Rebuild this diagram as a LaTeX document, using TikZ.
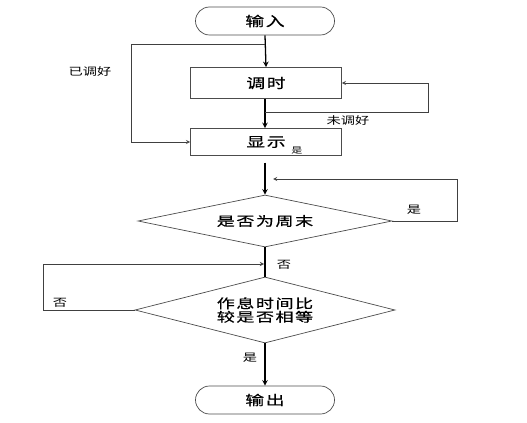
\documentclass[tikz,border=0pt]{standalone}
\usepackage{fontspec}
\setmainfont{Noto Sans CJK SC}[FakeStretch=1.35]
\newfontfamily\boxfont{Noto Sans CJK SC}[FakeStretch=1.4, FakeBold=0.6, LetterSpace=12]
\usepackage{tikz}
\usetikzlibrary{shapes.geometric}

\begin{document}
\begin{tikzpicture}[
  x=0.3mm, y=-0.3mm,
  term/.style={draw=black!70, line width=0.6pt, rounded corners=4.2mm,
               minimum width=41.7mm, minimum height=8.4mm,
               font=\boxfont\fontsize{11.5}{12}\selectfont},
  pbox/.style={draw=black!70, line width=0.6pt, minimum width=45.3mm,
               minimum height=8.6mm, font=\boxfont\fontsize{11.5}{12}\selectfont},
  decide/.style={diamond, draw=black!70, line width=0.6pt, inner sep=0pt,
                 align=center, font=\boxfont\fontsize{11}{11.5}\selectfont},
  arrow/.style={->, >=stealth, line width=1.1pt},
  back/.style={->, >=stealth, line width=0.6pt, color=black!75},
  lbl/.style={font=\fontsize{9}{10}\selectfont},
]
  \useasboundingbox (0,0) rectangle (527,423);

  % start / end
  \node[term] (in) at (265,21) {输入};
  \node[term] (out) at (265,400) {输出};

  % boxes
  \node[pbox, minimum height=9.3mm] (tune) at (266,83) {调时};
  \node[pbox, minimum height=8.1mm] (show) at (266,142) {显示};

  % decisions
  \node[decide, aspect=4.9, minimum width=76.2mm, minimum height=15.6mm] (wk)
    at (265,221) {是否为周末};
  \node[decide, aspect=3.9, minimum width=78mm, minimum height=19.8mm] (cmp)
    at (265,310) {作息时间比\\较是否相等};

  % bends
  \coordinate (b1) at (265,44);
  \coordinate (la) at (131,44);
  \coordinate (b2) at (265,112);
  \coordinate (ra) at (428,112);
  \coordinate (wr) at (457,179);
  \coordinate (wa) at (273,179);
  \coordinate (cl) at (43,264);
  \coordinate (cm) at (264,264);

  % main flow
  \draw[arrow] (in.south) -- (tune.north);
  \draw[arrow] (tune.south -| in.south) -- (show.north -| in.south);
  \draw[arrow, shorten <=2mm] (show.south -| in.south) -- (wk.north);
  \draw[line width=1.1pt] (wk.south) -- (cmp.north);
  \draw[arrow] (cmp.south) -- (out.north);

  % loops
  \draw[back] (b1) -- (la) |- (show.west);
  \draw[back] (b2) -- (ra) |- (tune.east);
  \draw[back] (wk.east) -| (wr) -- (wa);
  \draw[back] (cmp.west) -| (cl) -- (cm);

  % labels
  \node[lbl] (l1) at (90,72) {已调好};
  \node[lbl] (l2) at (348,121) {未调好};
  \node[lbl, font=\fontsize{7}{8}\selectfont] (l3) at (297,151) {是};
  \node[lbl] (l4) at (414,210) {是};
  \node[lbl] (l5) at (284,265) {否};
  \node[lbl] (l6) at (60,303) {否};
  \node[lbl] (l7) at (250,358) {是};
\end{tikzpicture}
\end{document}
